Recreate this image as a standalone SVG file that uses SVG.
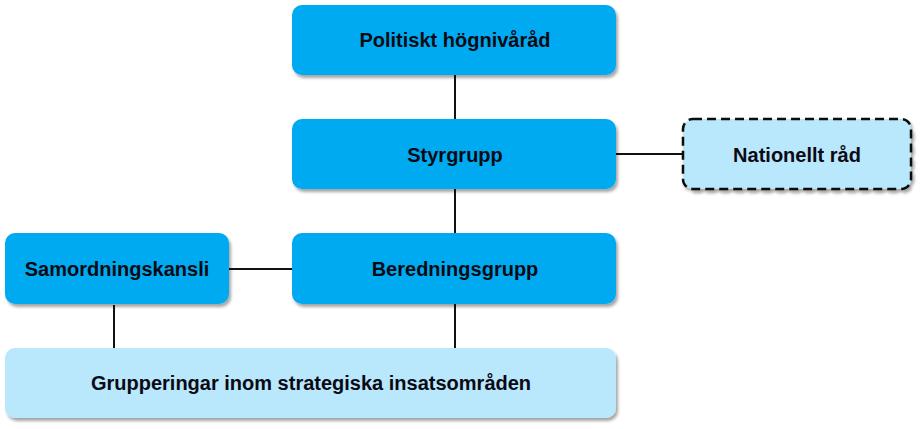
<svg xmlns="http://www.w3.org/2000/svg" width="924" height="429" viewBox="0 0 924 429">
<defs>
<filter id="sh" x="-5%" y="-10%" width="115%" height="130%">
<feDropShadow dx="2" dy="3" stdDeviation="1.5" flood-color="#000" flood-opacity="0.35"/>
</filter>
</defs>
<style>
.dark{fill:#00AAF0;filter:url(#sh)}
.light{fill:#B9E7FB;filter:url(#sh)}
.dash{stroke:#111;stroke-width:2.5;stroke-dasharray:9 5}
.t{font-family:"Liberation Sans",Arial,sans-serif;font-weight:bold;font-size:20px;fill:#0a0a14;text-anchor:middle;dominant-baseline:central}
.c{stroke:#111;stroke-width:2;fill:none}
</style>
<rect width="924" height="429" fill="#fff"/>
<g id="connectors">
<line class="c" x1="455" y1="75" x2="455" y2="119"/>
<line class="c" x1="455" y1="189" x2="455" y2="233"/>
<line class="c" x1="616" y1="154" x2="683" y2="154"/>
<line class="c" x1="229" y1="269" x2="292" y2="269"/>
<line class="c" x1="114" y1="305" x2="114" y2="348"/>
<line class="c" x1="455" y1="304" x2="455" y2="348"/>
</g>
<g id="politiskt">
<rect class="dark" x="292" y="5" width="324" height="70" rx="10"/>
<text class="t" x="455" y="40">Politiskt högnivåråd</text>
</g>
<g id="styrgrupp">
<rect class="dark" x="292" y="119" width="324" height="70" rx="10"/>
<text class="t" x="455" y="155">Styrgrupp</text>
</g>
<g id="nationellt">
<rect class="light dash" x="683" y="119" width="228" height="70" rx="10"/>
<text class="t" x="797" y="155">Nationellt råd</text>
</g>
<g id="samordning">
<rect class="dark" x="5" y="233" width="224" height="71" rx="10"/>
<text class="t" x="117" y="269">Samordningskansli</text>
</g>
<g id="beredning">
<rect class="dark" x="292" y="233" width="324" height="71" rx="10"/>
<text class="t" x="455" y="269">Beredningsgrupp</text>
</g>
<g id="grupperingar">
<rect class="light" x="5" y="348" width="611" height="70" rx="10"/>
<text class="t" x="311" y="383">Grupperingar inom strategiska insatsområden</text>
</g>
</svg>
